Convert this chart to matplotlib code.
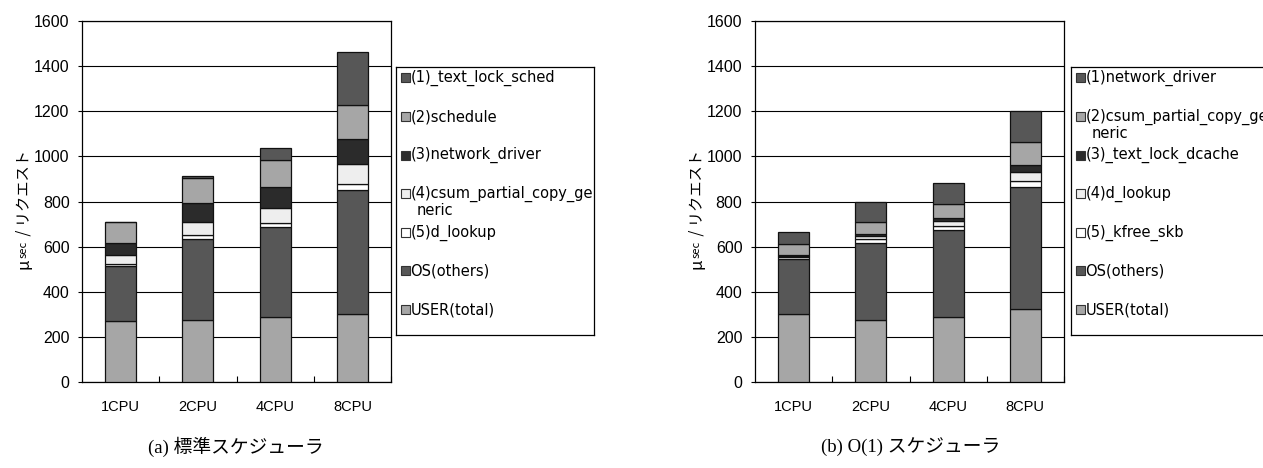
import matplotlib
matplotlib.use('Agg')
import matplotlib.pyplot as plt
from matplotlib.patches import Rectangle

plt.rcParams['font.family'] = ['Liberation Sans', 'Noto Sans CJK JP', 'DejaVu Sans']

cpus = ['1CPU', '2CPU', '4CPU', '8CPU']

# (a) standard scheduler, stacked bottom -> top
std_user = [270, 275, 288, 303]
std_os_others = [243, 358, 398, 546]
std_d_lookup = [10, 17, 20, 28]
std_csum = [42, 57, 64, 87]
std_network = [53, 87, 95, 113]
std_schedule = [90, 108, 120, 149]
std_text_lock_sched = [0, 12, 53, 238]

# (b) O(1) scheduler, stacked bottom -> top
o1_user = [300, 277, 288, 325]
o1_os_others = [247, 340, 385, 540]
o1_kfree_skb = [5, 15, 20, 25]
o1_d_lookup = [6, 16, 22, 40]
o1_text_lock_dcache = [5, 6, 10, 30]
o1_csum = [47, 56, 66, 105]
o1_network = [53, 88, 93, 135]

C_DARK = '#575757'
C_GRAY = '#a6a6a6'
C_BLACK = '#2b2b2b'
C_LIGHT = '#eeeeee'
C_WHITE = '#ffffff'

std_series = [
    ('USER(total)', std_user, C_GRAY),
    ('OS(others)', std_os_others, C_DARK),
    ('(5)d_lookup', std_d_lookup, C_WHITE),
    ('(4)csum_partial_copy_ge\nneric', std_csum, C_LIGHT),
    ('(3)network_driver', std_network, C_BLACK),
    ('(2)schedule', std_schedule, C_GRAY),
    ('(1)_text_lock_sched', std_text_lock_sched, C_DARK),
]
o1_series = [
    ('USER(total)', o1_user, C_GRAY),
    ('OS(others)', o1_os_others, C_DARK),
    ('(5)_kfree_skb', o1_kfree_skb, C_WHITE),
    ('(4)d_lookup', o1_d_lookup, C_LIGHT),
    ('(3)_text_lock_dcache', o1_text_lock_dcache, C_BLACK),
    ('(2)csum_partial_copy_ge\nneric', o1_csum, C_GRAY),
    ('(1)network_driver', o1_network, C_DARK),
]

W, H = 1263, 468
fig = plt.figure(figsize=(W / 100, H / 100), dpi=100, facecolor='white')


def fx(px):
    return px / W


def fy(py):
    return 1 - py / H


def drawStack(ax, series):
    x = list(range(len(cpus)))
    bottom = [0] * len(cpus)
    for name, vals, color in series:
        ax.bar(x, vals, 0.4, bottom=bottom, color=color, edgecolor='#111111',
               linewidth=0.9, zorder=3)
        bottom = [b + v for b, v in zip(bottom, vals)]
    ax.set_xlim(-0.5, len(cpus) - 0.5)
    ax.set_ylim(0, 1600)
    ax.set_yticks(range(0, 1601, 200))
    ax.yaxis.grid(True, color='black', linewidth=0.8, zorder=0)
    ax.set_xticks(x)
    ax.set_xticklabels(cpus, fontsize=10.5,
                       family=['Liberation Sans Narrow', 'Liberation Sans'])
    ax.set_xticks([i + 0.5 for i in x], minor=True)
    ax.tick_params(axis='x', which='major', length=0, pad=13)
    ax.tick_params(axis='x', which='minor', direction='in', length=4, width=0.8)
    ax.tick_params(axis='y', direction='out', length=3, width=0.8, labelsize=11.5, pad=6)
    for s in ax.spines.values():
        s.set_linewidth(0.9)
        s.set_color('black')


def drawLegend(rect, series):
    lax = fig.add_axes(rect)
    lw_px = rect[2] * W
    lh_px = rect[3] * H
    lax.set_xlim(0, lw_px)
    lax.set_ylim(lh_px, 0)
    lax.set_xticks([])
    lax.set_yticks([])
    for s in lax.spines.values():
        s.set_linewidth(0.9)
        s.set_color('black')
    for i, (name, vals, color) in enumerate(reversed(series)):
        yc = 11 + 38.6 * i
        lax.add_patch(Rectangle((4.5, yc - 4.5), 9, 9, facecolor=color,
                                edgecolor='#333333', linewidth=0.8))
        lines = name.split('\n')
        lax.text(14.5, yc, lines[0], fontsize=10.5, va='center', ha='left',
                 family='DejaVu Sans')
        if len(lines) > 1:
            lax.text(21, yc + 16.5, lines[1], fontsize=10.5, va='center',
                     ha='left', family='DejaVu Sans')


def drawYLabel(x_px, y_bottom_px):
    renderer = fig.canvas.get_renderer()
    y = fy(y_bottom_px)
    pieces = [('μ', 12), ('sec', 8), (' / リクエスト', 11)]
    for s, size in pieces:
        t = fig.text(fx(x_px), y, s, rotation=90, ha='center', va='bottom',
                     fontsize=size, family=['Noto Sans CJK JP', 'DejaVu Sans'])
        bb = t.get_window_extent(renderer)
        y = bb.y1 / (fig.bbox.height) + 0.002


ax_a = fig.add_axes([fx(82), fy(382), fx(309), fy(21) - fy(382)])
drawStack(ax_a, std_series)
drawLegend([fx(396), fy(335), fx(198), fy(67) - fy(335)], std_series)
drawYLabel(24, 269)

ax_b = fig.add_axes([fx(755), fy(382), fx(309), fy(21) - fy(382)])
drawStack(ax_b, o1_series)
drawLegend([fx(1071), fy(335), fx(230), fy(67) - fy(335)], o1_series)
drawYLabel(697, 269)

cap_family = ['Liberation Serif', 'Noto Sans CJK JP']
fig.text(fx(236), fy(447), '(a) 標準スケジューラ', ha='center', va='center',
         fontsize=13.5, family=cap_family)
fig.text(fx(911), fy(447), '(b) O(1) スケジューラ', ha='center', va='center',
         fontsize=13.5, family=cap_family)

fig.savefig('out.png', dpi=100, facecolor='white')
